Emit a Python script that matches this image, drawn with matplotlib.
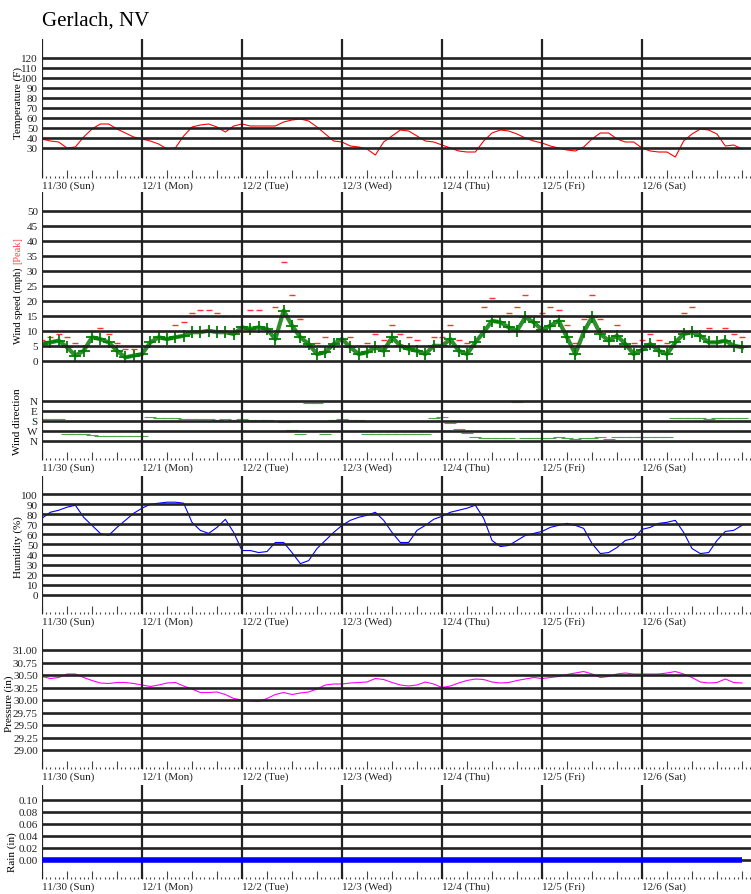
import numpy as np
import matplotlib
matplotlib.use("Agg")
import matplotlib.pyplot as plt
from matplotlib.ticker import MultipleLocator

plt.rcParams['font.family'] = 'Liberation Serif'

# readings every 2 hours from 11/30 00:00 to 12/7 00:00
hours = np.arange(0, 169, 2)
day_labels = ['11/30 (Sun)', '12/1 (Mon)', '12/2 (Tue)', '12/3 (Wed)',
              '12/4 (Thu)', '12/5 (Fri)', '12/6 (Sat)']

temp_f = [39, 37, 36, 30, 31, 41, 49, 54, 54, 49, 45, 41,
          39, 37, 34, 29, 30, 42, 51, 53, 54, 51, 46, 52,
          54, 52, 52, 52, 52, 56, 58, 59, 57, 51, 44, 37,
          36, 32, 31, 29, 23, 36, 42, 48, 47, 42, 37, 36,
          33, 30, 27, 26, 26, 37, 45, 48, 47, 44, 40, 37,
          35, 32, 30, 28, 27, 31, 39, 45, 45, 39, 36, 36,
          30, 27, 26, 26, 21, 37, 44, 49, 48, 44, 32, 33, 29]

wind_avg = [5.7, 6.2, 6.8, 4.6, 1.8, 3.4, 7.9, 7.3, 6.2, 3.4, 1.2, 1.8,
            2.3, 6.2, 7.9, 7.3, 7.9, 8.4, 9.6, 9.6, 10.1, 9.6, 9.6, 9.0,
            11.2, 10.7, 11.2, 10.7, 7.3, 16.8, 11.8, 7.9, 5.7, 2.3, 2.9, 5.7,
            7.3, 4.6, 2.3, 2.9, 4.6, 3.4, 7.9, 5.1, 4.0, 3.4, 2.3, 5.1,
            5.0, 7.3, 3.4, 2.3, 6.2, 9.6, 13.4, 12.9, 11.2, 10.1, 14.6, 12.9,
            10.4, 11.8, 13.4, 7.9, 2.3, 9.6, 14.6, 9.0, 6.8, 8.4, 5.7, 2.3,
            3.7, 5.7, 3.4, 2.3, 6.2, 9.0, 9.6, 8.4, 6.2, 6.2, 6.8, 5.1, 4.6]

wind_peak = [7, 8, 9, 8, 6, 5, 10, 11, 9, 6, 4, 4,
             5, 10, 10, 10, 12, 13, 16, 17, 17, 16, 15, 15,
             15, 17, 17, 15, 18, 33, 22, 14, 10, 6, 8, 10,
             10, 8, 5, 6, 9, 7, 12, 9, 8, 7, 5, 8,
             8, 12, 7, 6, 10, 18, 21, 20, 16, 18, 22, 20,
             16, 18, 17, 12, 6, 14, 22, 14, 10, 12, 10, 6,
             7, 9, 7, 6, 10, 16, 18, 15, 11, 10, 11, 9, 8]

wind_dir = [162, 162, 165, 300, 300, 300, 305, 315, 315, 315, 315, 315,
            315, 144, 150, 150, 150, 160, 165, 165, 160, 170, 165, 170,
            165, 170, 175, 170, 180, 185, 260, 300, 15, 20, 300, 175,
            165, 170, 175, 300, 300, 300, 300, 300, 300, 300, 300, 150,
            140, 200, 250, 285, 325, 330, 330, 330, 330, 5, 330, 330,
            330, 330, 320, 330, 340, 330, 330, 320, 340, 320, 320, 320,
            320, 320, 320, 320, 150, 150, 155, 150, 160, 150, 155, 150, 150]

humidity = [76, 82, 84, 87, 89, 77, 69, 61, 59, 67, 74, 81,
            86, 90, 91, 92, 92, 91, 72, 64, 61, 67, 75, 62,
            44, 44, 42, 43, 52, 52, 42, 31, 34, 46, 54, 62,
            69, 74, 77, 79, 82, 74, 62, 52, 52, 64, 69, 75,
            78, 82, 84, 86, 89, 76, 54, 48, 49, 54, 59, 61,
            63, 67, 69, 71, 69, 66, 51, 41, 42, 47, 54, 56,
            65, 67, 71, 72, 74, 62, 46, 41, 42, 54, 63, 64, 69]

pressure = [30.47, 30.43, 30.45, 30.52, 30.52, 30.45, 30.39, 30.34, 30.33, 30.35, 30.35, 30.33,
            30.30, 30.27, 30.30, 30.34, 30.35, 30.28, 30.22, 30.15, 30.15, 30.16, 30.11, 30.03,
            30.00, 29.98, 29.97, 30.03, 30.11, 30.15, 30.11, 30.14, 30.16, 30.22, 30.30, 30.32,
            30.32, 30.34, 30.35, 30.36, 30.43, 30.41, 30.35, 30.30, 30.28, 30.30, 30.36, 30.32,
            30.25, 30.28, 30.34, 30.39, 30.42, 30.41, 30.36, 30.34, 30.35, 30.39, 30.42, 30.45,
            30.43, 30.45, 30.47, 30.51, 30.54, 30.57, 30.52, 30.45, 30.47, 30.52, 30.54, 30.52,
            30.52, 30.52, 30.52, 30.54, 30.57, 30.52, 30.45, 30.36, 30.34, 30.35, 30.42, 30.35, 30.34]

rain = [0.0] * len(hours)

temp_ticks = [30, 40, 50, 60, 70, 80, 90, 100, 110, 120]
wind_ticks = [0, 5, 10, 15, 20, 25, 30, 35, 40, 45, 50]
dir_ticks = [0, 90, 180, 270, 360]
dir_names = ['N', 'E', 'S', 'W', 'N']
hum_ticks = [0, 10, 20, 30, 40, 50, 60, 70, 80, 90, 100]
pres_ticks = [29.00, 29.25, 29.50, 29.75, 30.00, 30.25, 30.50, 30.75, 31.00]
rain_ticks = [0.00, 0.02, 0.04, 0.06, 0.08, 0.10]

W, H = 751, 895
fig = plt.figure(figsize=(W / 100, H / 100), dpi=100)
days = hours / 24.0
GRID = '#222222'


def make_axes(top, bottom, ylim, yticks, ylabels=None, xlabels=True):
    ax = fig.add_axes([42 / W, 1 - bottom / H, (W - 42) / W, (bottom - top) / H])
    ax.set_xlim(0, 7.09)
    ax.set_ylim(*ylim)
    for s in ax.spines.values():
        s.set_visible(False)
    for v in yticks:
        ax.axhline(v, color=GRID, lw=1.9, zorder=4)
    for d in range(7):
        ax.axvline(d, color=GRID, lw=1.6, zorder=4)
    ax.set_yticks(yticks)
    if ylabels is not None:
        ax.set_yticklabels(ylabels)
    ax.tick_params(axis='y', length=0, pad=3, labelsize=8, labelcolor='#222')
    if xlabels:
        ticks = np.arange(0, 7.01, 0.25)
        ax.set_xticks(ticks)
        ax.set_xticklabels([day_labels[int(t)] if t == int(t) and t < 7 else '' for t in ticks])
        ax.xaxis.set_minor_locator(MultipleLocator(1 / 24))
        for lab in ax.get_xticklabels():
            lab.set_ha('left')
        ax.tick_params(axis='x', which='major', direction='in', length=6, width=0.8,
                       pad=2, labelsize=8, labelcolor='#222', color='#444')
        ax.tick_params(axis='x', which='minor', direction='in', length=1.5, width=0.8,
                       color='#444')
    else:
        ax.set_xticks([])
    return ax


# temperature
ax = make_axes(40, 179, (0, 139), temp_ticks)
ax.plot(days, temp_f, color='red', lw=0.8, zorder=3)
fig.text(18 / W, 1 - 103 / H, 'Temperature (F)', rotation=90, ha='center', va='center', fontsize=8)

# wind speed
ax = make_axes(193, 377, (-5, 56.33), wind_ticks, xlabels=False)
ax.plot(days, wind_peak, ls='none', marker='_', ms=4, mew=1, color='#ff3030', zorder=2)
ax.plot(days, wind_avg, color='#0a7a0a', lw=3, alpha=0.85, zorder=3)
ax.plot(days, wind_avg, ls='none', marker='+', ms=8, mew=1.3, color='green', zorder=3)
speed_lab = fig.text(18 / W, 1 - 344 / H, 'Wind speed (mph)', rotation=90, ha='center',
                     va='bottom', fontsize=7.5)
fig.canvas.draw()
bb = speed_lab.get_window_extent()
fig.text(18 / W, (bb.y1 + 4) / H, '[Peak]', rotation=90, ha='center', va='bottom',
         fontsize=7.5, color='#ff4040')

# wind direction
ax = make_axes(377, 461, (531, -225), dir_ticks, dir_names)
ax.plot(days, wind_dir, ls='none', marker='_', ms=8, mew=0.8, color='#4aa84a', zorder=3)
fig.text(18 / W, 1 - 422 / H, 'Wind direction', rotation=90, ha='center', va='center', fontsize=8)

# humidity
ax = make_axes(477, 615, (-19, 118), hum_ticks)
ax.plot(days, humidity, color='blue', lw=0.8, zorder=3)
fig.text(18 / W, 1 - 547 / H, 'Humidity (%)', rotation=90, ha='center', va='center', fontsize=8)

# pressure
ax = make_axes(630, 770, (28.62, 31.42), pres_ticks, ['%.2f' % v for v in pres_ticks])
ax.plot(days, pressure, color='magenta', lw=0.8, zorder=3)
fig.text(9 / W, 1 - 704 / H, 'Pressure (in)', rotation=90, ha='center', va='center', fontsize=8)

# rain
ax = make_axes(786, 880, (-0.0317, 0.125), rain_ticks, ['%.2f' % v for v in rain_ticks])
ax.plot(days, rain, color='blue', lw=4, zorder=5, solid_capstyle='butt')
fig.text(12 / W, 1 - 852 / H, 'Rain (in)', rotation=90, ha='center', va='center', fontsize=8)

fig.text(42 / W, 1 - 26 / H, 'Gerlach, NV', fontsize=15, ha='left', va='baseline')

fig.savefig('out.png', dpi=100)
